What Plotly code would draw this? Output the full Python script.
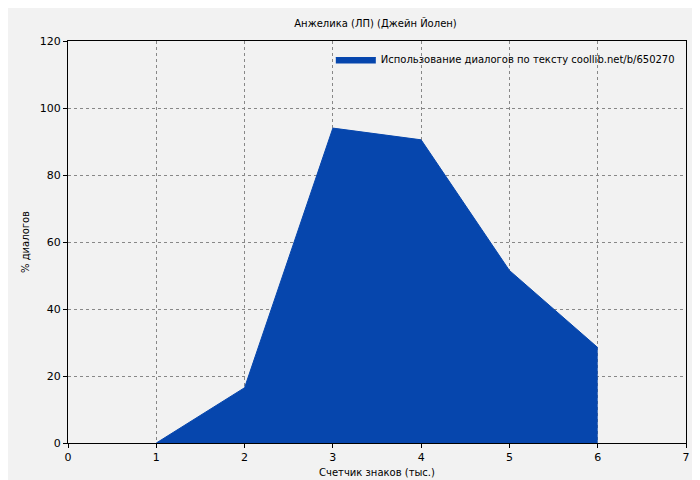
import plotly.graph_objects as go

x = [1, 2, 3, 4, 5, 6]
y = [0, 16.5, 94, 90.5, 51.5, 28.5]
title = "Анжелика (ЛП) (Джейн Йолен)"
series_name = "Использование диалогов по тексту coollib.net/b/650270"

fig = go.Figure()
fig.add_trace(go.Scatter(x=x, y=y, fill="tozeroy", mode="lines",
                         line=dict(color="#0646ad", width=1), fillcolor="#0646ad",
                         name=series_name))
ax = dict(showline=True, linecolor="black", mirror=True, showgrid=True,
          gridcolor="#888", griddash="dot", gridwidth=1, zeroline=False,
          ticks="outside", ticklen=4, tickcolor="black",
          tickfont=dict(size=11, color="black"))
fig.update_layout(
    width=700, height=480,
    paper_bgcolor="#f2f2f2", plot_bgcolor="#f2f2f2",
    font=dict(family="DejaVu Sans", size=10, color="black"),
    title=dict(text=title, x=0.525, y=0.975, xanchor="center", font=dict(size=10)),
    margin=dict(l=60, r=22, t=33, b=40),
    xaxis=dict(ax, range=[0, 7], dtick=1, title=dict(text="Счетчик знаков (тыс.)", standoff=5, font=dict(size=10))),
    yaxis=dict(ax, range=[0, 120], dtick=20, title=dict(text="% диалогов", standoff=8, font=dict(size=10))),
    showlegend=True,
    legend=dict(x=0.99, y=0.99, xanchor="right", yanchor="top", bgcolor="rgba(0,0,0,0)",
                font=dict(size=10), itemwidth=40),
)
fig.write_html("out.html")
